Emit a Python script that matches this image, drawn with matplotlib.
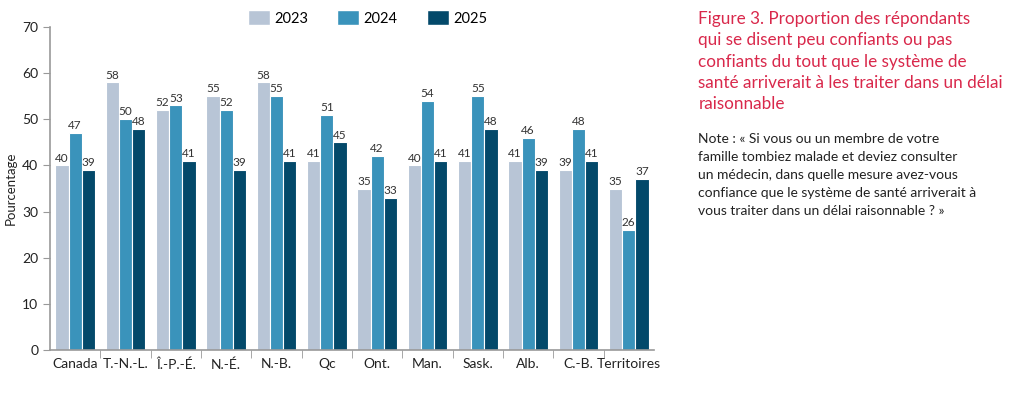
import matplotlib
matplotlib.use("Agg")
import matplotlib.pyplot as plt
import numpy as np
from matplotlib.patches import Patch

plt.rcParams['font.family'] = ['Lato', 'DejaVu Sans']

categories = ["Canada", "T.-N.-L.", "Î.-P.-É.", "N.-É.", "N.-B.", "Qc", "Ont.",
              "Man.", "Sask.", "Alb.", "C.-B.", "Territoires"]
series_names = ["2023", "2024", "2025"]
v2023 = [40, 58, 52, 55, 58, 41, 35, 40, 41, 41, 39, 35]
v2024 = [47, 50, 53, 52, 55, 51, 42, 54, 55, 46, 48, 26]
v2025 = [39, 48, 41, 39, 41, 45, 33, 41, 48, 39, 41, 37]
yticks = [0, 10, 20, 30, 40, 50, 60, 70]

colors = ["#b8c5d6", "#3a93bb", "#03496a"]
title = ("Figure 3. Proportion des répondants\nqui se disent peu confiants ou pas\n"
         "confiants du tout que le système de\nsanté arriverait à les traiter dans un délai\n"
         "raisonnable")
note = ("Note\u202f: «\u202fSi vous ou un membre de votre\nfamille tombiez malade et deviez consulter\n"
        "un médecin, dans quelle mesure avez-vous\nconfiance que le système de santé arriverait à\n"
        "vous traiter dans un délai raisonnable\u202f?\u202f»")

fig = plt.figure(figsize=(10.24, 3.98), dpi=100)
ax = fig.add_axes([0.0488, 0.1206, 0.5898, 0.8114])

x = np.arange(len(categories))
w = 0.262
for i, (vals, c) in enumerate(zip([v2023, v2024, v2025], colors)):
    pos = x + (i - 1) * w
    ax.bar(pos, vals, width=w, color=c, edgecolor="white", linewidth=0.8)
    for xp, v in zip(pos, vals):
        ax.text(xp, v + 0.4, str(v), ha="center", va="bottom", fontsize=8.5, color="#333333")

ax.set_xlim(-0.5, 11.5)
ax.set_ylim(0, 70)
ax.set_yticks(yticks)
ax.tick_params(axis="y", labelsize=10, colors="#222222", length=5, color="#999999")
ax.set_xticks(x)
ax.set_xticklabels(categories, fontsize=10, color="#222222")
ax.tick_params(axis="x", length=0, pad=6)
ax.set_xticks(np.arange(0.5, 11.5, 1), minor=True)
ax.tick_params(axis="x", which="minor", length=6, color="#999999")
for s in ["top", "right"]:
    ax.spines[s].set_visible(False)
for s in ["left", "bottom"]:
    ax.spines[s].set_color("#999999")
    ax.spines[s].set_linewidth(1.2)
ax.set_ylabel("Pourcentage", fontsize=9.5, color="#222222", labelpad=4)

handles = [Patch(facecolor=c, edgecolor="white") for c in colors]
fig.legend(handles, series_names, loc="center", bbox_to_anchor=(0.359, 0.955), ncol=3,
           frameon=False, fontsize=10.5, handlelength=1.5, handleheight=1.2,
           columnspacing=2.0, handletextpad=0.3)

fig.text(0.682, 0.972, title, ha="left", va="top", fontsize=12.3, color="#d9284b",
         linespacing=1.4)
fig.text(0.682, 0.665, note, ha="left", va="top", fontsize=10, color="#222222",
         linespacing=1.58)

fig.savefig("out.png", dpi=100)
